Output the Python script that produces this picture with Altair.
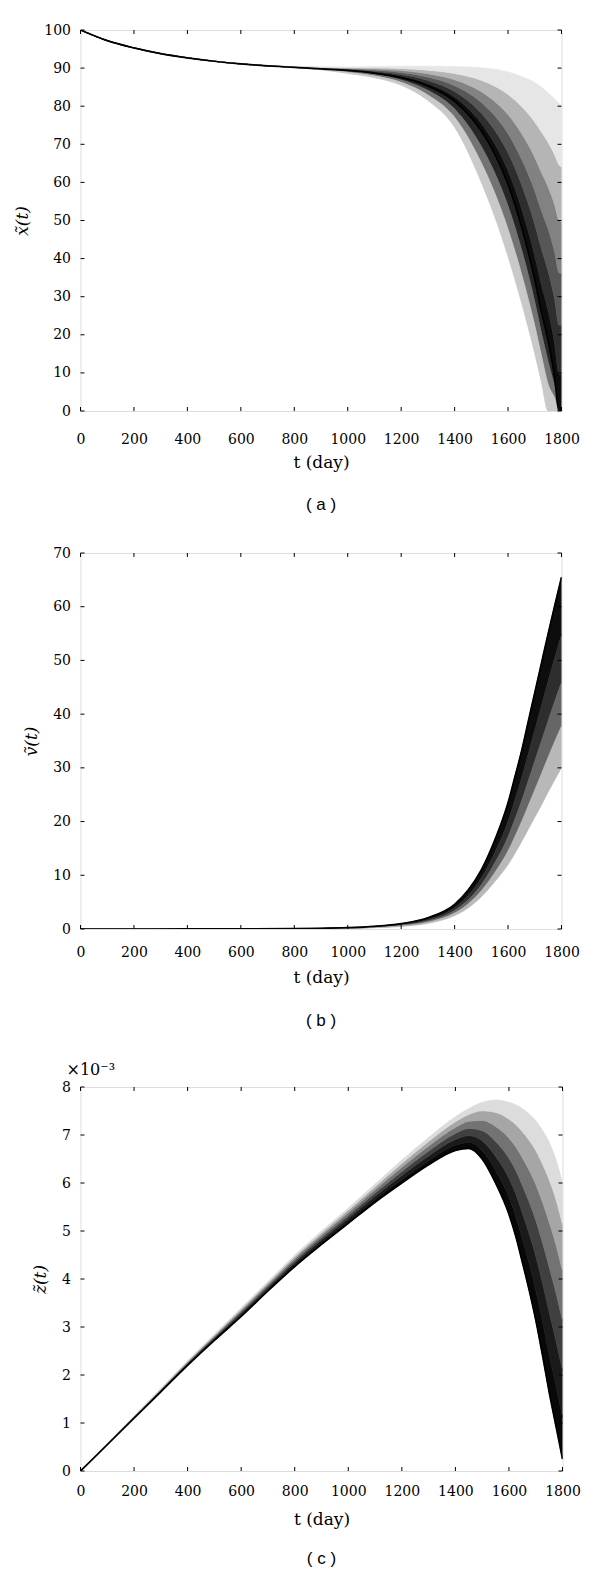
import altair as alt
import pandas as pd

# ---------------- data ----------------
x_ticks = [0, 200, 400, 600, 800, 1000, 1200, 1400, 1600, 1800]

# panel (a): x~(t) -- core curve plus grey-level contours on each side
t_a = [0, 100, 200, 300, 400, 500, 600, 700, 800, 900, 1000, 1100, 1200, 1300, 1400,
       1500, 1550, 1600, 1650, 1700, 1725, 1750, 1775, 1790, 1800]
core_a = [100, 97.2, 95.3, 93.8, 92.7, 91.8, 91.1, 90.6, 90.2, 89.8, 89.4, 88.7, 87.5, 85.3, 81.3,
          73.5, 67.5, 59.5, 48.5, 34.5, 26, 18.5, 8.5, 0, 0]
up1_a = [100, 97.2, 95.3, 93.8, 92.7, 91.8, 91.1, 90.6, 90.22, 89.86, 89.51, 88.9, 87.86, 85.92, 82.39,
         75.49, 70.16, 63.04, 53.22, 40.7, 33.08, 26.3, 17.3, 9.7, 9.6]
up2_a = [100, 97.2, 95.3, 93.8, 92.7, 91.8, 91.1, 90.6, 90.26, 89.94, 89.65, 89.18, 88.34, 86.76, 83.85,
         78.15, 73.72, 67.76, 59.5, 48.98, 42.52, 36.7, 29.02, 22.62, 22.4]
up3_a = [100, 97.2, 95.3, 93.8, 92.7, 91.8, 91.1, 90.6, 90.29, 90.03, 89.81, 89.47, 88.85, 87.64, 85.4,
         80.97, 77.49, 72.78, 66.19, 57.77, 52.55, 47.75, 41.49, 36.36, 36]
up4_a = [100, 97.2, 95.3, 93.8, 92.7, 91.8, 91.1, 90.6, 90.32, 90.11, 89.96, 89.75, 89.36, 88.52, 86.94,
         83.79, 81.26, 77.79, 72.87, 66.55, 62.58, 58.8, 53.95, 50.1, 49.6]
up5_a = [100, 97.2, 95.3, 93.8, 92.7, 91.8, 91.1, 90.6, 90.36, 90.2, 90.12, 90.06, 89.9, 89.46, 88.58,
         86.78, 85.26, 83.1, 79.94, 75.86, 73.2, 70.5, 67.14, 64.64, 64]
up6_a = [100, 97.2, 95.3, 93.8, 92.7, 91.8, 91.1, 90.6, 90.4, 90.3, 90.3, 90.4, 90.5, 90.5, 90.4,
         90.1, 89.7, 89.0, 87.8, 86.2, 85, 83.5, 81.8, 80.8, 80]
dn1_a = [100, 97.2, 95.3, 93.8, 92.7, 91.8, 91.1, 90.6, 90.2, 89.72, 89.16, 88.34, 86.9, 84.16, 79.26,
         69.45, 62.55, 53.8, 42.5, 28.65, 20.45, 12.95, 5.95, 0, 0]
dn2_a = [100, 97.2, 95.3, 93.8, 92.7, 91.8, 91.1, 90.6, 90.2, 89.65, 88.9, 87.96, 86.26, 82.94, 77.08,
         65.13, 57.27, 47.72, 36.1, 22.41, 14.53, 7.03, 3.23, 0, 0]
dn3_a = [100, 97.2, 95.3, 93.8, 92.7, 91.8, 91.1, 90.6, 90.2, 89.55, 88.6, 87.5, 85.5, 81.5, 74.5,
         60, 51, 40.5, 28.5, 15, 7.5, 0, 0, 0, 0]
y_ticks_a = [0, 10, 20, 30, 40, 50, 60, 70, 80, 90, 100]

# panel (b): v~(t)
t_b = [0, 200, 400, 600, 800, 900, 1000, 1100, 1200, 1300, 1400, 1450, 1500, 1550, 1600,
       1625, 1650, 1675, 1700, 1725, 1750, 1775, 1800]
core_b = [0, 0, 0.005, 0.02, 0.06, 0.12, 0.25, 0.5, 1.0, 2.1, 4.6, 7.2, 11, 16.5, 23.5,
          28.2, 33, 38.5, 44, 49.5, 55, 60.3, 65.5]
dn1_b = [0, 0, 0.004, 0.017, 0.051, 0.102, 0.211, 0.422, 0.844, 1.785, 3.97, 6.21, 9.5, 14.19, 20.05,
         23.94, 27.96, 32.5, 37.04, 41.58, 46.15, 50.55, 54.85]
dn2_b = [0, 0, 0.0034, 0.0145, 0.0435, 0.087, 0.179, 0.357, 0.714, 1.52, 3.445, 5.385, 8.25, 12.27, 17.18,
         20.39, 23.76, 27.5, 31.24, 34.98, 38.78, 42.43, 45.98]
dn3_b = [0, 0, 0.0027, 0.0122, 0.0366, 0.073, 0.149, 0.297, 0.594, 1.28, 2.96, 4.63, 7.1, 10.49, 14.53,
         17.12, 19.9, 22.9, 25.9, 28.91, 31.99, 34.95, 37.81]
dn4_b = [0, 0, 0.002, 0.01, 0.03, 0.06, 0.12, 0.24, 0.48, 1.05, 2.5, 3.9, 6.0, 8.8, 12,
         14, 16.2, 18.5, 20.8, 23.1, 25.5, 27.8, 30]
y_ticks_b = [0, 10, 20, 30, 40, 50, 60, 70]

# panel (c): z~(t), in units of 1e-3
t_c = [0, 100, 200, 300, 400, 500, 600, 700, 800, 900, 1000, 1100, 1200, 1300, 1400, 1450,
       1500, 1550, 1600, 1625, 1650, 1675, 1700, 1725, 1750, 1775, 1800]
core_c = [0, 0.55, 1.1, 1.65, 2.2, 2.72, 3.22, 3.75, 4.26, 4.72, 5.16, 5.6, 6.0, 6.38, 6.68, 6.72,
          6.5, 6.0, 5.35, 4.9, 4.35, 3.78, 3.15, 2.42, 1.65, 0.95, 0.25]
up1_c = [0, 0.553, 1.108, 1.66, 2.215, 2.74, 3.247, 3.78, 4.296, 4.762, 5.208, 5.657, 6.072, 6.466, 6.785, 6.845,
         6.677, 6.26, 5.7, 5.31, 4.83, 4.329, 3.773, 3.122, 2.43, 1.783, 1.113]
up2_c = [0, 0.556, 1.116, 1.672, 2.232, 2.762, 3.278, 3.814, 4.337, 4.81, 5.262, 5.722, 6.154, 6.562, 6.904, 6.986,
         6.878, 6.554, 6.096, 5.774, 5.374, 4.951, 4.478, 3.918, 3.314, 2.726, 2.09]
up3_c = [0, 0.56, 1.125, 1.685, 2.25, 2.785, 3.31, 3.85, 4.38, 4.86, 5.32, 5.79, 6.24, 6.665, 7.03, 7.135,
         7.09, 6.865, 6.515, 6.265, 5.95, 5.61, 5.225, 4.76, 4.25, 3.725, 3.125]
up4_c = [0, 0.564, 1.134, 1.698, 2.268, 2.808, 3.342, 3.886, 4.423, 4.91, 5.378, 5.858, 6.326, 6.768, 7.156, 7.284,
         7.302, 7.176, 6.934, 6.756, 6.526, 6.269, 5.972, 5.602, 5.186, 4.724, 4.16]
up5_c = [0, 0.567, 1.143, 1.71, 2.285, 2.83, 3.373, 3.92, 4.464, 4.958, 5.432, 5.923, 6.408, 6.865, 7.275, 7.426,
         7.503, 7.471, 7.331, 7.221, 7.07, 6.891, 6.678, 6.398, 6.07, 5.668, 5.138]
up6_c = [0, 0.57, 1.15, 1.72, 2.3, 2.85, 3.4, 3.95, 4.5, 5.0, 5.48, 5.98, 6.48, 6.95, 7.38, 7.55,
         7.68, 7.73, 7.68, 7.63, 7.55, 7.44, 7.3, 7.1, 6.85, 6.5, 6.0]
y_ticks_c = [0, 1, 2, 3, 4, 5, 6, 7, 8]

SERIF = "DejaVu Serif"
SANS = "Liberation Sans"


def panel(t, curves, bands, ydom, yticks, w, h, ytitle, caption,
          label_pad_x, title_pad_x, cap_offset, note=None):
    df = pd.DataFrame(dict(t=t, **curves))
    xs = alt.Scale(domain=[0, 1800], nice=False, zero=False)
    ys = alt.Scale(domain=ydom, nice=False, zero=False)
    xax = alt.Axis(values=x_ticks, format="d", title="t (day)", ticks=False, domain=False,
                   grid=False, labelFont=SERIF, labelFontSize=14, labelColor="black",
                   labelPadding=label_pad_x, titleFont=SERIF, titleFontSize=17,
                   titleFontWeight="normal", titleColor="black", titlePadding=title_pad_x,
                   labelFlush=False)
    yax = alt.Axis(values=yticks, format="d", title=ytitle, ticks=False, domain=False, grid=False,
                   labelFont=SERIF, labelFontSize=14, labelColor="black", labelPadding=10,
                   titleFont=SERIF, titleFontSize=17, titleFontStyle="italic",
                   titleFontWeight="normal", titleColor="black", titlePadding=12,
                   labelFlush=False)

    layers = []
    for lo, hi, col in bands:
        layers.append(
            alt.Chart(df).mark_area(color=col, clip=True, interpolate="monotone",
                                    stroke=col, strokeWidth=0.7)
            .encode(x=alt.X("t:Q", scale=xs, axis=xax),
                    y=alt.Y(f"{lo}:Q", scale=ys, axis=yax),
                    y2=alt.Y2(f"{hi}:Q"))
        )
    layers.append(
        alt.Chart(df).mark_line(color="black", strokeWidth=1.7, clip=True, interpolate="monotone")
        .encode(x=alt.X("t:Q", scale=xs, axis=xax), y=alt.Y("core:Q", scale=ys, axis=yax))
    )
    # inward ticks on all four sides
    xt = pd.DataFrame({"xt": x_ticks})
    yt = pd.DataFrame({"yt": yticks})
    tick = dict(color="black", strokeWidth=1)
    layers.append(alt.Chart(xt).mark_rule(**tick).encode(
        x=alt.X("xt:Q", scale=xs, axis=xax), y=alt.value(h), y2=alt.value(h - 4)))
    layers.append(alt.Chart(xt).mark_rule(**tick).encode(
        x=alt.X("xt:Q", scale=xs, axis=xax), y=alt.value(0), y2=alt.value(4)))
    layers.append(alt.Chart(yt).mark_rule(**tick).encode(
        y=alt.Y("yt:Q", scale=ys, axis=yax), x=alt.value(0), x2=alt.value(4)))
    layers.append(alt.Chart(yt).mark_rule(**tick).encode(
        y=alt.Y("yt:Q", scale=ys, axis=yax), x=alt.value(w), x2=alt.value(w - 4)))
    if note:
        layers.append(alt.Chart(pd.DataFrame({"s": [note]})).mark_text(
            align="left", baseline="middle", font=SERIF, fontSize=16, color="black")
            .encode(text="s:N", x=alt.value(-14), y=alt.value(-17)))
    return alt.layer(*layers).properties(
        width=w, height=h,
        title=alt.TitleParams(caption, orient="bottom", font=SANS, fontSize=17,
                              fontWeight="normal", color="black", offset=cap_offset,
                              anchor="middle", frame="group"))


pa = panel(t_a,
           dict(core=core_a, u1=up1_a, u2=up2_a, u3=up3_a, u4=up4_a, u5=up5_a, u6=up6_a,
                d1=dn1_a, d2=dn2_a, d3=dn3_a),
           [("core", "u1", "#0d0d0d"), ("u1", "u2", "#2e2e2e"), ("u2", "u3", "#575757"),
            ("u3", "u4", "#828282"), ("u4", "u5", "#b5b5b5"), ("u5", "u6", "#e6e6e6"),
            ("d1", "core", "#262626"), ("d2", "d1", "#737373"), ("d3", "d2", "#c9c9c9")],
           [0, 100], y_ticks_a, 481, 381, "x̃(t)", "( a )", 21, 8, 27)

pb = panel(t_b,
           dict(core=core_b, d1=dn1_b, d2=dn2_b, d3=dn3_b, d4=dn4_b),
           [("d1", "core", "#0d0d0d"), ("d2", "d1", "#2e2e2e"), ("d3", "d2", "#666666"),
            ("d4", "d3", "#b8b8b8")],
           [0, 70], y_ticks_b, 481, 376, "ṽ(t)", "( b )", 16, 10, 28)

pc = panel(t_c,
           dict(core=core_c, u1=up1_c, u2=up2_c, u3=up3_c, u4=up4_c, u5=up5_c, u6=up6_c),
           [("core", "u1", "#080808"), ("u1", "u2", "#1a1a1a"), ("u2", "u3", "#404040"),
            ("u3", "u4", "#737373"), ("u4", "u5", "#a6a6a6"), ("u5", "u6", "#dcdcdc")],
           [0, 8], y_ticks_c, 482, 384, "z̃(t)", "( c )", 13, 13, 24, note="×10⁻³")

chart = alt.vconcat(pa, pb, pc, spacing=31).properties(
    padding={"left": 4.5, "top": 14, "right": 5, "bottom": 0}
).configure_view(stroke="black", strokeWidth=1.2).configure(background="white")

chart.save("out.html", embed_options={"renderer": "svg", "actions": False})
